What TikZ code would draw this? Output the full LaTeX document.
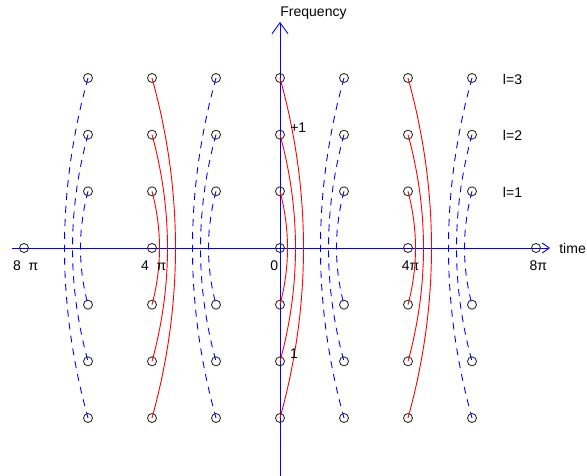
\documentclass[tikz,border=0pt]{standalone}
\usepackage{fontspec}
\setmainfont{Liberation Sans}
\usetikzlibrary{arrows.meta,calc}
\begin{document}
\begin{tikzpicture}[x=1pt,y=-1pt,
  pt/.style={circle,draw=black!85,line width=0.85pt,minimum size=9pt,inner sep=0pt},
  axisline/.style={draw=blue,line width=0.9pt},
  redc/.style={draw=red,line width=0.9pt},
  bluec/.style={draw=blue,line width=0.9pt,dash pattern=on 7pt off 6pt},
  lbl/.style={inner sep=0pt,anchor=base,font=\fontsize{14}{16}\selectfont}]
\useasboundingbox (0,0) rectangle (587,476);
% axes
\coordinate (xl) at (12,248);
\coordinate (xr) at (550,248);
\coordinate (yb) at (280,476);
\coordinate (yt) at (280,22);
\draw[axisline,-{Straight Barb[length=7pt,width=10pt]}] (xl) -- (xr);
\draw[axisline,-{Straight Barb[length=11pt,width=16pt]}] (yb) -- (yt);
% grid circles
\foreach \i/\x in {1/88,2/152,3/216,4/280,5/344,6/408,7/472} {
  \foreach \l in {1,2,3} {
    \node[pt] (c\i-t\l) at (\x,{248-56.67*\l}) {};
    \node[pt] (c\i-b\l) at (\x,{248+56.67*\l}) {};
  }
}
% axis circles
\node[pt] (a0) at (24,248) {};
\node[pt] (a1) at (152,248) {};
\node[pt] (a2) at (280,248) {};
\node[pt] (a3) at (408,248) {};
\node[pt] (a4) at (536,248) {};
% curves
\foreach \i/\x/\d/\st in {1/88/-1/bluec,2/152/1/redc,3/216/-1/bluec,4/280/1/redc,5/344/-1/bluec,6/408/1/redc,7/472/-1/bluec} {
  \foreach \l in {1,2,3} {
    \pgfmathsetmacro\s{8*\l-0.5}
    \pgfmathsetmacro\cx{\x+\d*4*\s/3}
    \pgfmathsetmacro\cy{56.67*\l/3}
    \draw[\st] (c\i-t\l.center) .. controls (\cx,{248-\cy}) and (\cx,{248+\cy}) .. (c\i-b\l.center);
  }
}
% labels
\node[lbl] (lfreq) at (313.5,17) {Frequency};
\node[lbl,anchor=base east] (ltime) at (586,254) {time};
\node[lbl] (l3) at (512.5,85) {l=3};
\node[lbl] (l2) at (512.5,141) {l=2};
\node[lbl] (l1) at (512.5,197.7) {l=1};
\node[lbl] (t8l) at (25.8,270) {8~~π};
\node[lbl] (t4l) at (153.7,270) {4~~π};
\node[lbl] (t0) at (274.2,270.5) {0};
\node[lbl] (t4r) at (410.5,270) {4π};
\node[lbl] (t8r) at (538.3,270) {8π};
\node[lbl] (plus1) at (298.3,132.7) {+1};
\node[lbl] (one) at (294,358) {1};
\end{tikzpicture}
\end{document}
